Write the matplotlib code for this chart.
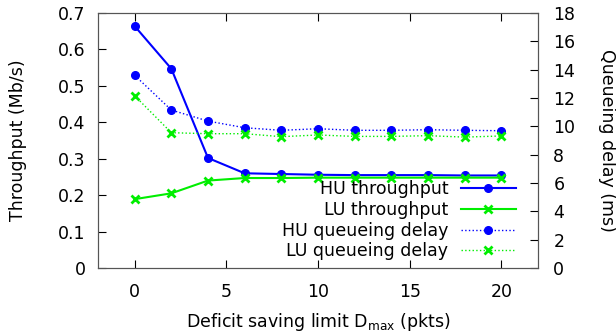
import numpy as np
from matplotlib import pyplot as plt

plt.rcParams['font.family'] = 'DejaVu Sans'
plt.rcParams['font.size'] = 12.5
plt.rcParams['mathtext.default'] = 'regular'

dmax = [0, 2, 4, 6, 8, 10, 12, 14, 16, 18, 20]
hu_tput = [0.664, 0.547, 0.302, 0.260, 0.258, 0.256, 0.255, 0.255, 0.255, 0.254, 0.254]
lu_tput = [0.189, 0.205, 0.240, 0.247, 0.247, 0.248, 0.248, 0.248, 0.248, 0.248, 0.248]
hu_delay = [13.6, 11.15, 10.37, 9.9, 9.72, 9.83, 9.72, 9.72, 9.76, 9.72, 9.69]
lu_delay = [12.16, 9.55, 9.48, 9.48, 9.27, 9.39, 9.29, 9.29, 9.34, 9.24, 9.32]

blue = '#0000ff'
green = '#00ee00'

fig = plt.figure(figsize=(6.16, 3.33), dpi=100)
ax = fig.add_axes([98/616, 1 - 268/333, 440/616, 255/333])
ax2 = ax.twinx()

l1, = ax.plot(dmax, hu_tput, '-', color=blue, lw=1.5, marker='o', ms=5.5)
l2, = ax.plot(dmax, lu_tput, '-', color=green, lw=1.5, marker='x', ms=6, mew=2)
l3, = ax2.plot(dmax, hu_delay, ':', color=blue, lw=1, marker='o', ms=5.5)
l4, = ax2.plot(dmax, lu_delay, ':', color=green, lw=1, marker='x', ms=6, mew=2)

ax.set_xlim(-2, 22)
ax.set_ylim(0, 0.7)
ax2.set_ylim(0, 18)
ax.set_xticks([0, 5, 10, 15, 20])
ax.set_yticks(np.arange(0, 0.71, 0.1))
ax.set_yticklabels(['0', '0.1', '0.2', '0.3', '0.4', '0.5', '0.6', '0.7'])
ax2.set_yticks(range(0, 19, 2))

ax.tick_params(axis='x', direction='in', top=True, length=6, pad=11)
ax.tick_params(axis='y', direction='in', right=False, length=6, pad=9)
ax2.tick_params(axis='y', direction='in', length=6, pad=11)
for a in (ax, ax2):
    for s in a.spines.values():
        s.set_color('#555555')

ax.set_xlabel('Deficit saving limit D$_{max}$ (pkts)', labelpad=7)
ax.set_ylabel('Throughput (Mb/s)', labelpad=22)
ax2.set_ylabel('Queueing delay (ms)', rotation=270, labelpad=29)

ax2.legend([l1, l2, l3, l4],
           ['HU throughput', 'LU throughput', 'HU queueing delay', 'LU queueing delay'],
           loc='lower right', bbox_to_anchor=(0.978, -0.017), frameon=False,
           markerfirst=False, numpoints=1, handlelength=3.2, handletextpad=0.7,
           labelspacing=0.15, borderpad=0.2)

plt.savefig('out.png', dpi=100)
